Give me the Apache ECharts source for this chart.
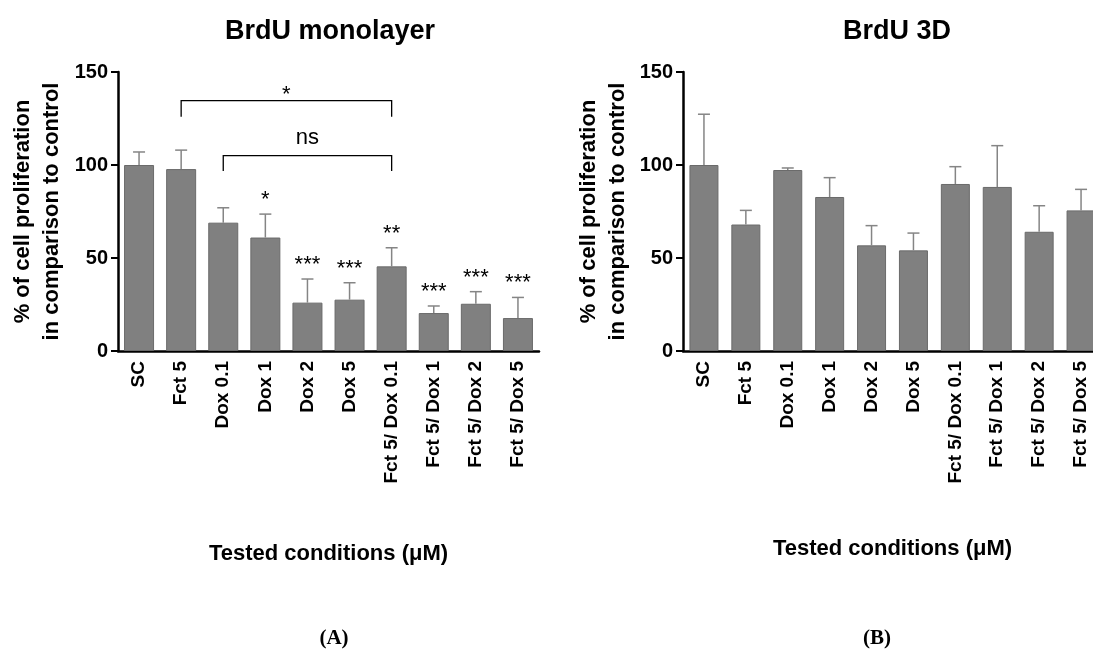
<!DOCTYPE html>
<html>
<head>
<meta charset="utf-8">
<script src="https://cdn.jsdelivr.net/npm/echarts@6/dist/echarts.min.js"></script>
<style>
  html, body { margin: 0; padding: 0; background: #fff; }
  #main { width: 1093px; height: 653px; }
</style>
</head>
<body>
<div id="main"></div>
<script>
// categories (same on both panels)
var conditions = ['SC', 'Fct 5', 'Dox 0.1', 'Dox 1', 'Dox 2', 'Dox 5',
    'Fct 5/ Dox 0.1', 'Fct 5/ Dox 1', 'Fct 5/ Dox 2', 'Fct 5/ Dox 5'];

// panel A - monolayer
var monoMean = [100, 97.8, 69, 61, 26, 27.6, 45.5, 20.4, 25.4, 17.7];
var monoErr = [7, 10.2, 8, 12.6, 12.7, 9.1, 10, 3.8, 6.5, 11.1];
var monoStars = ['', '', '', '*', '***', '***', '**', '***', '***', '***'];
// brackets: [from index, to index, top value, leg end value, label]
var monoBrackets = [
    [1, 6, 134.6, 126, '*'],
    [2, 6, 105, 96.8, 'ns']
];

// panel B - 3D
var d3Mean = [100, 68, 97.3, 82.8, 56.8, 54.1, 89.8, 88.2, 64.1, 75.6];
var d3Err = [27.3, 7.6, 1.1, 10.4, 10.6, 9.3, 9.3, 22.2, 14, 11.3];

var yTicks = [0, 50, 100, 150];

var FONT = "'Liberation Sans', Arial, sans-serif";
var BAR = '#808080';
var ERR = '#858585';

var chart = echarts.init(document.getElementById('main'));

function errRows(mean, err, stars) {
    return mean.map(function(m, i) {
        return [i, m, err[i], stars ? stars[i] : ''];
    });
}

// error bar (upper half only) + significance stars
function renderErr(params, api) {
    var i = api.value(0);
    var m = api.value(1);
    var e = api.value(2);
    var star = api.value(3);
    var base = api.coord([i, m]);
    var tip = api.coord([i, m + e]);
    var half = 6;
    var kids = [{
        type: 'line',
        shape: { x1: base[0], y1: base[1], x2: tip[0], y2: tip[1] },
        style: { stroke: ERR, lineWidth: 1.5 }
    }, {
        type: 'line',
        shape: { x1: tip[0] - half, y1: tip[1], x2: tip[0] + half, y2: tip[1] },
        style: { stroke: ERR, lineWidth: 1.5 }
    }];
    if (star) {
        kids.push({
            type: 'text',
            style: {
                text: star, x: tip[0], y: tip[1] - 3,
                textAlign: 'center', textVerticalAlign: 'bottom',
                font: "22px " + FONT, fill: '#000'
            }
        });
    }
    return { type: 'group', children: kids };
}

function renderBracket(params, api) {
    var a = api.coord([api.value(0), api.value(2)]);
    var b = api.coord([api.value(1), api.value(2)]);
    var leg = api.coord([api.value(0), api.value(3)]);
    var label = monoBrackets[params.dataIndex][4];
    var starLike = /^\*+$/.test(label);
    return {
        type: 'group',
        children: [{
            type: 'polyline',
            shape: { points: [[a[0], leg[1]], [a[0], a[1]], [b[0], b[1]], [b[0], leg[1]]] },
            style: { stroke: '#000', lineWidth: 1.3, fill: null }
        }, {
            type: 'text',
            style: {
                text: label, x: (a[0] + b[0]) / 2, y: a[1] + (starLike ? 5 : -7),
                textAlign: 'center', textVerticalAlign: 'bottom',
                font: "22px " + FONT, fill: '#000'
            }
        }]
    };
}

function xAx(gi) {
    return {
        type: 'category',
        gridIndex: gi,
        data: conditions,
        axisLine: { lineStyle: { color: '#000', width: 2.5 } },
        axisTick: { alignWithLabel: true, length: 7, lineStyle: { color: '#000', width: 2 } },
        axisLabel: {
            rotate: 90, interval: 0, margin: 10,
            fontFamily: FONT, fontSize: 19, fontWeight: 'bold', color: '#000'
        },
        name: 'Tested conditions (μM)',
        nameLocation: 'middle',
        nameGap: gi === 0 ? 192 : 187,
        nameTextStyle: { fontFamily: FONT, fontSize: 22, fontWeight: 'bold', color: '#000',
            verticalAlign: 'top' }
    };
}

function yAx(gi) {
    return {
        type: 'value',
        gridIndex: gi,
        min: 0, max: 150, interval: 50,
        splitLine: { show: false },
        axisLine: { show: true, lineStyle: { color: '#000', width: 2.5 } },
        axisTick: { show: true, length: 7, lineStyle: { color: '#000', width: 2 } },
        axisLabel: {
            margin: 10, fontFamily: FONT, fontSize: 20, fontWeight: 'bold', color: '#000',
            formatter: function(v) { return yTicks.indexOf(v) >= 0 ? String(v) : ''; }
        },
        name: '% of cell proliferation\nin comparison to control',
        nameLocation: 'middle',
        nameRotate: 90,
        nameGap: gi === 0 ? 52 : 51,
        nameTextStyle: { fontFamily: FONT, fontSize: 22, fontWeight: 'bold', color: '#000',
            lineHeight: 29 }
    };
}

var option = {
    backgroundColor: '#fff',
    animation: false,
    title: [{
        text: 'BrdU monolayer', left: 325, top: 13, textAlign: 'center',
        textStyle: { fontFamily: FONT, fontSize: 27, fontWeight: 'bold', color: '#000' }
    }, {
        text: 'BrdU 3D', left: 892, top: 13, textAlign: 'center',
        textStyle: { fontFamily: FONT, fontSize: 27, fontWeight: 'bold', color: '#000' }
    }, {
        text: '{p|(}{b|A}{p|)}', left: 329, top: 623, textAlign: 'center',
        textStyle: { rich: {
            p: { fontFamily: "'Liberation Serif', serif", fontSize: 21, color: '#000' },
            b: { fontFamily: "'Liberation Serif', serif", fontSize: 21, fontWeight: 'bold', color: '#000' }
        } }
    }, {
        text: '{p|(}{b|B}{p|)}', left: 872, top: 623, textAlign: 'center',
        textStyle: { rich: {
            p: { fontFamily: "'Liberation Serif', serif", fontSize: 21, color: '#000' },
            b: { fontFamily: "'Liberation Serif', serif", fontSize: 21, fontWeight: 'bold', color: '#000' }
        } }
    }],
    grid: [
        { left: 118, top: 72, width: 421, bottom: 302, outerBoundsMode: 'none' },
        { left: 683, top: 72, width: 419, bottom: 302, outerBoundsMode: 'none' }
    ],
    xAxis: [xAx(0), xAx(1)],
    yAxis: [yAx(0), yAx(1)],
    series: [{
        type: 'bar', xAxisIndex: 0, yAxisIndex: 0,
        data: monoMean, barWidth: 30,
        itemStyle: { color: BAR, borderColor: '#6a6a6a', borderWidth: 1 }
    }, {
        type: 'custom', xAxisIndex: 0, yAxisIndex: 0, z: 3,
        renderItem: renderErr,
        data: errRows(monoMean, monoErr, monoStars)
    }, {
        type: 'custom', xAxisIndex: 0, yAxisIndex: 0, z: 3,
        renderItem: renderBracket,
        data: monoBrackets.map(function(b) { return [b[0], b[1], b[2], b[3]]; })
    }, {
        type: 'bar', xAxisIndex: 1, yAxisIndex: 1,
        data: d3Mean, barWidth: 29,
        itemStyle: { color: BAR, borderColor: '#6a6a6a', borderWidth: 1 }
    }, {
        type: 'custom', xAxisIndex: 1, yAxisIndex: 1, z: 3,
        renderItem: renderErr,
        data: errRows(d3Mean, d3Err, null)
    }]
};

chart.setOption(option);
</script>
</body>
</html>
